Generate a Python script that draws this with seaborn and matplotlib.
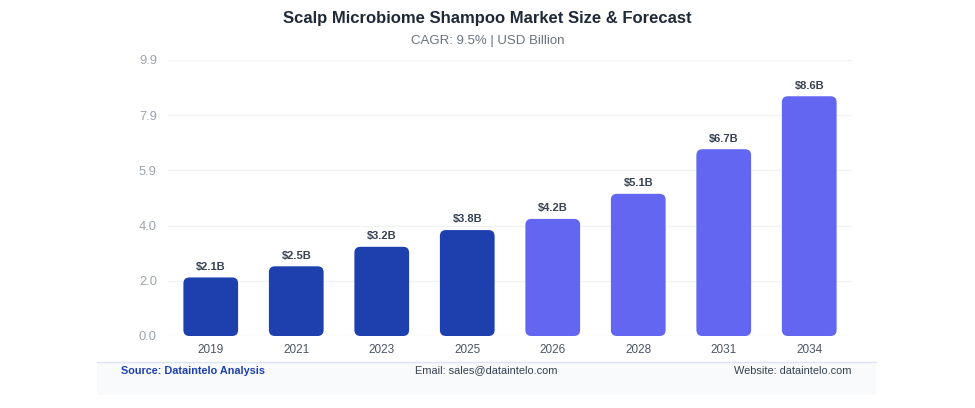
import numpy as np
import pandas as pd
import matplotlib
matplotlib.use("Agg")
import matplotlib.pyplot as plt
import seaborn as sns
from matplotlib.patches import FancyBboxPatch, Rectangle

years = ["2019", "2021", "2023", "2025", "2026", "2028", "2031", "2034"]
values = [2.1, 2.5, 3.2, 3.8, 4.2, 5.1, 6.7, 8.6]
phase = ["hist", "hist", "hist", "hist", "fcst", "fcst", "fcst", "fcst"]
ytick_vals = [0.0, 1.98, 3.96, 5.94, 7.92, 9.9]
ytick_labels = ["0.0", "2.0", "4.0", "5.9", "7.9", "9.9"]

df = pd.DataFrame({"Year": years, "Value": values, "Phase": phase})
colors = {"hist": "#1e40af", "fcst": "#6366f1"}

sns.set_style("white")
plt.rcParams['font.family'] = ['Liberation Sans', 'DejaVu Sans']

fig = plt.figure(figsize=(9.75, 4.08), dpi=100)
ax = fig.add_axes([168/975, 72/408, 684/975, 276/408])

sns.barplot(data=df, x="Year", y="Value", hue="Phase", palette=colors,
            width=0.64, dodge=False, legend=False, ax=ax, saturation=1)

ax.set_ylim(0, 9.9)
ax.set_xlim(-0.5, 7.5)

# swap plain bars for rounded ones
fig.canvas.draw()
px_x = ax.transData.transform([(1, 0)])[0][0] - ax.transData.transform([(0, 0)])[0][0]
px_y = ax.transData.transform([(0, 1)])[0][1] - ax.transData.transform([(0, 0)])[0][1]
r = 6 / px_x
for p in list(ax.patches):
    x, y = p.get_x(), p.get_y()
    w, h = p.get_width(), p.get_height()
    if h == 0 or np.isnan(h):
        p.remove()
        continue
    fc = p.get_facecolor()
    p.remove()
    fb = FancyBboxPatch((x, y), w, h, boxstyle=f"round,pad=0,rounding_size={r}",
                        mutation_aspect=px_x / px_y, facecolor=fc, edgecolor="none",
                        zorder=3)
    ax.add_patch(fb)
    ax.text(x + w / 2, h + 0.2, f"${h:.1f}B", ha="center", va="bottom",
            fontsize=8, fontweight="bold", color="#374151", zorder=4)

ax.set_yticks(ytick_vals)
ax.set_yticklabels(ytick_labels)
ax.grid(axis="y", color="#f1f3f7", linewidth=1, zorder=0)
ax.set_axisbelow(True)
for s in ax.spines.values():
    s.set_visible(False)
ax.tick_params(axis="y", colors="#9ca3af", labelsize=9.3, length=0, pad=8)
ax.tick_params(axis="x", colors="#4b5563", labelsize=8.5, length=0, pad=6)
ax.set_xlabel("")
ax.set_ylabel("")

fig.text(0.5, 1 - 18/408, "Scalp Microbiome Shampoo Market Size & Forecast",
         ha="center", va="center", fontsize=12, fontweight="bold", color="#1f2937")
fig.text(0.5, 1 - 41/408, "CAGR: 9.5% | USD Billion", ha="center", va="center",
         fontsize=9.5, color="#6b7280")

# footer
fig.patches.append(Rectangle((97/975, 1 - 395/408), 779/975, 33/408,
                             transform=fig.transFigure, facecolor="#f8fafc",
                             edgecolor="none", zorder=0))
fig.add_artist(plt.Line2D([97/975, 876/975], [1 - 362/408, 1 - 362/408],
                          color="#dbe4f0", linewidth=1))
fy = 1 - 370.5/408
fig.text(121/975, fy, "Source: Dataintelo Analysis", ha="left", va="center",
         fontsize=7.8, fontweight="bold", color="#1e40af")
fig.text(486/975, fy, "Email: sales@dataintelo.com", ha="center", va="center",
         fontsize=7.9, color="#374151")
fig.text(852/975, fy, "Website: dataintelo.com", ha="right", va="center",
         fontsize=7.9, color="#374151")

fig.savefig("out.png", dpi=100)
